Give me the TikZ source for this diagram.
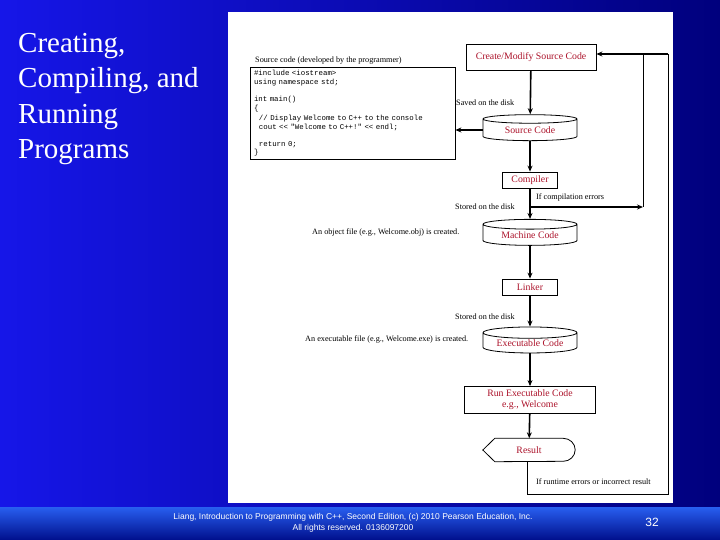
\documentclass[tikz,border=0pt]{standalone}
\usepackage{fontspec}
\setmainfont{Liberation Serif}
\setsansfont{Liberation Sans}
\setmonofont{Liberation Mono}
\usetikzlibrary{arrows.meta,shapes.geometric,positioning}

\definecolor{bgbright}{RGB}{22,22,232}
\definecolor{bgdark}{RGB}{0,0,125}
\definecolor{bandtop}{RGB}{40,95,240}
\definecolor{bandbot}{RGB}{0,15,140}
\definecolor{labelred}{RGB}{172,18,42}

\begin{document}
\begin{tikzpicture}[x=1pt,y=-1pt,>={Stealth[length=6pt,width=5pt]},
    box/.style={draw,line width=0.8pt,text=labelred,font=\fontsize{9.8}{11}\selectfont,align=center,inner sep=1pt},
    disk/.style={draw,line width=0.8pt,cylinder,shape border rotate=90,aspect=0.17,minimum width=94pt,minimum height=26pt,text=labelred,font=\fontsize{9.8}{11}\selectfont,inner sep=0pt},
    note/.style={anchor=west,inner sep=0pt,font=\fontsize{8.2}{9.5}\selectfont},
    flow/.style={->,line width=1.6pt},
    loop/.style={line width=0.8pt}]
    \useasboundingbox (0,0) rectangle (720,540);
    \shade[left color=bgbright,right color=bgdark] (0,0) rectangle (720,540);
    \shade[top color=bandtop,bottom color=bandbot] (0,507) rectangle (720,540);
    \fill[white] (228,12) rectangle (673,503);

    \node[anchor=north west,align=left,text=white,inner sep=0pt,font=\fontsize{29}{35.5}\selectfont] (title) at (18,33) {Creating,\\Compiling, and\\Running\\Programs};

    \node[note] (srclabel) at (255,61) {Source code (developed by the programmer)};
    \node[draw,line width=0.8pt,minimum width=205pt,minimum height=87pt,text width=197pt,align=left,inner sep=3pt,font=\ttfamily\fontsize{7.4}{8.6}\selectfont] (code) at (352.5,113.5) {\#include <iostream>\\using namespace std;\\[8.6pt]int main()\\\{\\[1.5pt]\ \ // Display Welcome to C++ to the console\\\ \ cout << "Welcome to C++!" << endl;\\[8.6pt]\ \ return 0;\\\}};

    \node[box,minimum width=130pt,minimum height=26pt] (edit) at (531,57) {Create/Modify Source Code};
    \node[disk] (src) at (530,130) {Source Code};
    \node[box,minimum width=55pt,minimum height=16pt] (comp) at (530,180) {Compiler};
    \node[disk] (obj) at (530,235) {Machine Code};
    \node[box,minimum width=55pt,minimum height=16pt] (link) at (530,287) {Linker};
    \node[disk] (exe) at (530,343) {Executable Code};
    \node[box,minimum width=131pt,minimum height=27pt] (run) at (530,400) {Run Executable Code\\e.g., Welcome};
    \node[minimum width=92pt,minimum height=23pt,text=labelred,font=\fontsize{9.8}{11}\selectfont,inner sep=0pt] (result) at (529,450) {Result};
    \draw[line width=0.8pt] (result.west) -- ([xshift=12pt]result.north west) -- ([xshift=-12pt]result.north east) arc (90:-90:12pt and 11.5pt) -- ([xshift=12pt]result.south west) -- cycle;

    \node[note] (saved) at (456,103) {Saved on the disk};
    \node[note] (errs) at (536,197) {If compilation errors};
    \node[note] (stored1) at (455,207) {Stored on the disk};
    \node[note] (objfile) at (312,232) {An object file (e.g., Welcome.obj) is created.};
    \node[note] (stored2) at (455,317) {Stored on the disk};
    \node[note] (exefile) at (305,339) {An executable file (e.g., Welcome.exe) is created.};
    \node[note] (rterrs) at (536,482) {If runtime errors or incorrect result};

    \coordinate (split) at (530,207);
    \coordinate (errend) at (643,207);
    \coordinate (errtop) at (643,54);
    \coordinate (corner) at (668,54);
    \coordinate (low) at (668,494);
    \coordinate (down) at (527,494);

    \draw[flow] (edit) -- (src);
    \draw[flow] (src.west) -- (code.east |- src.west);
    \draw[flow] (src) -- (comp);
    \draw[flow] (comp) -- (obj);
    \draw[flow] (split) -- (errend);
    \draw[loop] (errend) -- (errtop);
    \draw[flow] (corner) -- (edit.east |- corner);
    \draw[flow] (obj) -- (link);
    \draw[flow] (link) -- (exe);
    \draw[flow] (exe) -- (run);
    \draw[flow] (run) -- (result);
    \draw[loop] (result.south -| down) -- (down) -- (low) -- (corner);

    \node[align=center,text=white,inner sep=0pt,font=\sffamily\fontsize{8.5}{11}\selectfont] (footer) at (353,522.5) {Liang, Introduction to Programming with C++, Second Edition, (c) 2010 Pearson Education, Inc.\\All rights reserved. 0136097200};
    \node[text=white,inner sep=0pt,font=\sffamily\fontsize{12}{14}\selectfont] (page) at (652,522) {32};
\end{tikzpicture}
\end{document}
